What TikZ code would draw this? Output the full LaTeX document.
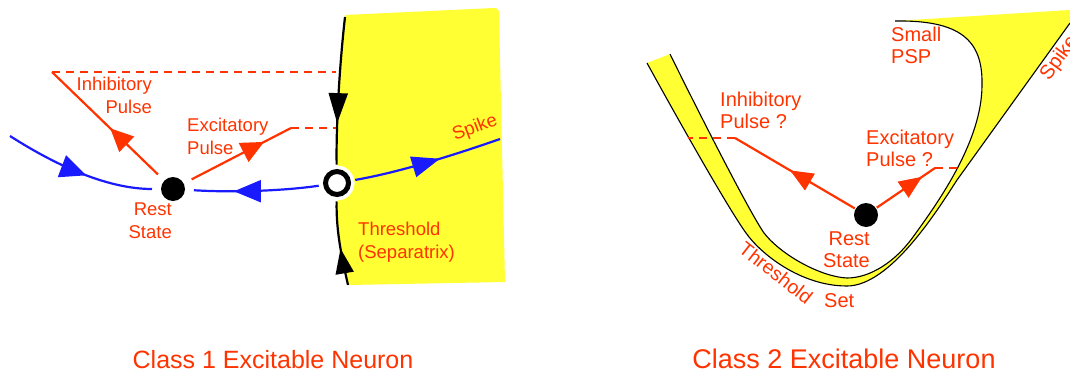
\documentclass[tikz,border=0pt]{standalone}
\usepackage{fontspec}
\setmainfont{Liberation Sans}
\usetikzlibrary{arrows.meta,decorations.markings}
\definecolor{nred}{RGB}{255,51,0}
\definecolor{nblue}{RGB}{26,26,255}
\definecolor{nyellow}{RGB}{255,255,51}
\pgfdeclarelayer{back}
\pgfdeclarelayer{lines}
\pgfsetlayers{back,lines,main}
\tikzset{
  marrow/.style n args={3}{postaction={decorate},
    decoration={markings, mark=at position #1 with {\arrow{Triangle[length=#2,width=#3]}}}},
  redline/.style={draw=nred, line width=2.2pt},
  reddash/.style={draw=nred, line width=2.2pt, dash pattern=on 8pt off 6pt},
  blueline/.style={draw=nblue, line width=2.2pt},
  sepline/.style={draw=black, line width=2.2pt},
  ucurve/.style={draw=black, line width=1.1pt},
  restdot/.style={circle, fill=black, minimum size=24pt, inner sep=0pt},
  saddlering/.style={circle, draw=black, line width=5pt, fill=white, minimum size=23pt,
    inner sep=0pt, outer sep=7pt, preaction={draw=white, line width=12pt}},
  lab1/.style={text=nred, font=\fontsize{18.5}{22.5}\selectfont, inner sep=0pt},
  lab2/.style={text=nred, font=\fontsize{20}{21.5}\selectfont, inner sep=0pt},
}
\begin{document}
\begin{tikzpicture}[x=1pt,y=-1pt]
\useasboundingbox (0,0) rectangle (1070,372);

% ---------------- Class 1 ----------------
\begin{pgfonlayer}{back}
\fill[nyellow] (345,15) -- (494,8) .. controls (498,8) and (499,10) .. (499,14)
  -- (505,282) -- (348,285) .. controls (342,258) and (336,232) .. (337,183)
  .. controls (336,130) and (339,70) .. (345,15) -- cycle;
\end{pgfonlayer}

\node[restdot, outer sep=9pt] (rest1) at (173,189) {};
\node[saddlering] (saddle1) at (337,183) {};

\coordinate (septop) at (345,17);
\coordinate (sepbot) at (348,285);
\coordinate (inflow) at (10,136);
\coordinate (spikeend1) at (500,139);
\coordinate (inhend1) at (52,72);
\coordinate (inhsep1) at (336,72);
\coordinate (excend1) at (291,128);
\coordinate (excsep1) at (336,128);

\begin{pgfonlayer}{lines}
\draw[sepline, marrow={0.72}{30pt}{19pt}] (septop) .. controls (339,70) and (336,130) .. (saddle1);
\draw[sepline, marrow={0.44}{25pt}{18pt}] (sepbot) .. controls (342,258) and (336,232) .. (saddle1);
\draw[blueline, marrow={0.56}{26pt}{23pt}] (inflow) .. controls (60,168) and (110,189) .. (rest1);
\draw[blueline, marrow={0.68}{27pt}{22pt}] (saddle1) .. controls (290,190) and (240,193) .. (rest1);
\draw[blueline, marrow={0.58}{28pt}{21pt}] (saddle1) .. controls (390,174) and (440,160) .. (spikeend1);
\draw[redline, marrow={0.45}{23pt}{21pt}] (rest1) -- (inhend1);
\draw[reddash] (inhend1) -- (inhsep1);
\draw[redline, marrow={0.73}{23pt}{21pt}] (rest1) -- (excend1);
\draw[reddash] (excend1) -- (excsep1);
\end{pgfonlayer}

\node[lab1, anchor=north east, align=right] (inhlab1) at (152,77) {Inhibitory\\Pulse};
\node[lab1, anchor=north west, align=left] (exclab1) at (187,118) {Excitatory\\Pulse};
\node[lab1, anchor=north east, align=right] (restlab1) at (172,203) {Rest\\State};
\node[lab1, anchor=north west, align=left] (thrlab1) at (358,222) {Threshold\\(Separatrix)};
\node[lab1, anchor=base west, rotate=21] (spikelab1) at (455,141) {Spike};
\node[text=nred, font=\fontsize{25}{30}\selectfont, inner sep=0pt, anchor=base] (cap1) at (273,368) {Class 1 Excitable Neuron};

% ---------------- Class 2 ----------------
\begin{pgfonlayer}{back}
\fill[nyellow] (647,63) .. controls (680,123) and (728,208) .. (746,233)
  .. controls (760,253) and (800,286) .. (847,286)
  .. controls (890,286) and (937,211) .. (957,180)
  -- (1070,23) -- (1070,10) -- (895,21)
  .. controls (960,20) and (983,40) .. (982,85)
  .. controls (982,140) and (940,200) .. (913,237)
  .. controls (895,262) and (870,278) .. (847,278)
  .. controls (822,277) and (782,256) .. (764,233)
  .. controls (748,210) and (690,95) .. (670,54) -- cycle;
\draw[ucurve] (647,63) .. controls (680,123) and (728,208) .. (746,233)
  .. controls (760,253) and (800,286) .. (847,286)
  .. controls (890,286) and (937,211) .. (957,180)
  -- (1070,23);
\draw[ucurve] (895,21)
  .. controls (960,20) and (983,40) .. (982,85)
  .. controls (982,140) and (940,200) .. (913,237)
  .. controls (895,262) and (870,278) .. (847,278)
  .. controls (822,277) and (782,256) .. (764,233)
  .. controls (748,210) and (690,95) .. (670,54);
\end{pgfonlayer}

\node[restdot, outer sep=1pt] (rest2) at (866,215) {};
\coordinate (inhend2) at (735,138);
\coordinate (inhthr2) at (688,138);
\coordinate (excend2) at (935,168);
\coordinate (excthr2) at (960,168);

\begin{pgfonlayer}{lines}
\draw[redline, marrow={0.54}{23pt}{19pt}] (rest2) -- (inhend2);
\draw[reddash] (inhend2) -- (inhthr2);
\draw[redline, marrow={0.78}{23pt}{19pt}] (rest2) -- (excend2);
\draw[reddash] (excend2) -- (excthr2);
\end{pgfonlayer}

\node[lab2, anchor=north west, align=left] (inhlab2) at (720,92) {Inhibitory\\Pulse ?};
\node[lab2, anchor=north west, align=left] (exclab2) at (866,130) {Excitatory\\Pulse ?};
\node[lab2, anchor=north west, align=left] (psplab) at (891,27) {Small\\PSP};
\node[lab2, anchor=north east, align=right] (restlab2) at (870,232) {Rest\\State};
\node[lab2, font=\fontsize{19.5}{21}\selectfont, rotate=-38] (thrlab2) at (776,273) {Threshold};
\node[lab2, anchor=north west] (setlab) at (824,293) {Set};
\node[lab2, anchor=north west, rotate=54] (spikelab2) at (1037,73) {Spike};
\node[text=nred, font=\fontsize{27}{32}\selectfont, inner sep=0pt, anchor=base] (cap2) at (844,368) {Class 2 Excitable Neuron};
\end{tikzpicture}
\end{document}
